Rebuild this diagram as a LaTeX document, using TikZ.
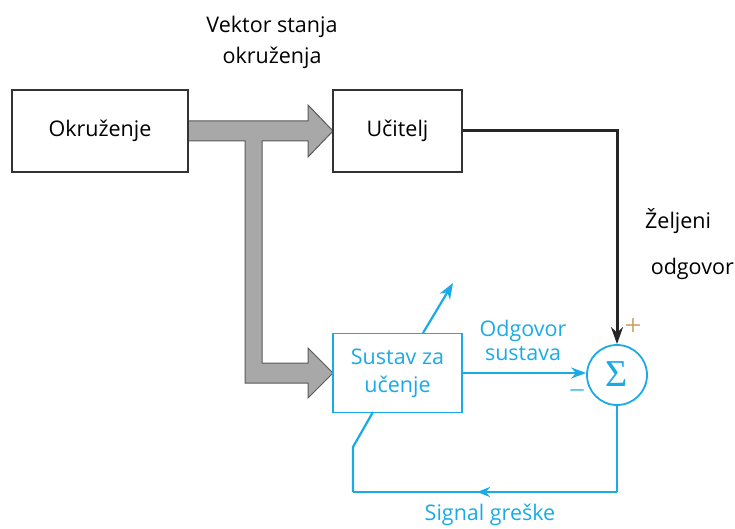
\documentclass[tikz,border=0pt]{standalone}
\usepackage{fontspec}
\setmainfont{Open Sans}
\newfontfamily\sigfont{Liberation Serif}
\usetikzlibrary{arrows.meta,decorations.markings}
\definecolor{cblue}{HTML}{1AABE6}
\definecolor{agrey}{HTML}{A8A8A8}
\definecolor{aedge}{HTML}{5A5A5A}
\definecolor{plusc}{HTML}{C89A5A}
\tikzset{
  box/.style={draw=black!80, line width=1.3pt, fill=white, inner sep=0pt},
  bbox/.style={draw=cblue, line width=1.8pt, fill=white, inner sep=0pt, text=cblue},
  lbl/.style={font=\fontsize{21.5}{26}\selectfont, align=center, inner sep=0pt},
  bl/.style={draw=cblue, line width=2.2pt},
  midarrow/.style={postaction={decorate}, decoration={markings, mark=at position #1 with {\arrow{Stealth[length=13pt,width=10pt]}}}}
}
\begin{document}
\begin{tikzpicture}[x=1pt,y=-1pt]
\useasboundingbox (0,0) rectangle (735,529);
% grey T arrow
\filldraw[fill=agrey, draw=aedge, line width=1pt, line join=miter]
  (188,121) -- (308,121) -- (308,105) -- (333,131) -- (308,157) -- (308,141)
  -- (262,141) -- (262,363) -- (308,363) -- (308,348) -- (333,373) -- (308,398)
  -- (308,383) -- (245,383) -- (245,141) -- (188,141) -- cycle;
\node[box, minimum width=176, minimum height=82] (okr) at (100,131) {};
\node[lbl] at (okr.center) {Okruženje};
\node[box, minimum width=129, minimum height=82] (uci) at (397.5,131) {};
\node[lbl] at (uci.center) {Učitelj};
\node[bbox, minimum width=129, minimum height=79] (sus) at (397.5,373) {};
\node[lbl, text=cblue, font=\fontsize{21.5}{28}\selectfont] at (sus.center) {Sustav za\\učenje};
\node[draw=cblue, line width=1.8pt, circle, minimum size=60, inner sep=0pt] (sig) at (617,375) {};
\node[text=cblue, inner sep=0pt, font=\sigfont\fontsize{38}{38}\selectfont] at ([yshift=1]sig.center) {Σ};
% texts
\node[lbl, font=\fontsize{21.5}{31}\selectfont] (vek) at (272,42) {Vektor stanja\\okruženja};
\node[lbl, anchor=west, align=left, font=\fontsize{21.5}{46}\selectfont] (zel) at (645,244) {Željeni\\\ odgovor};
\node[lbl, text=cblue, font=\fontsize{21.5}{24}\selectfont] (odg) at (523,340) {Odgovor\\sustava};
\node[lbl, text=cblue] (sg) at (490,515) {Signal greške};
\node[lbl, text=cblue] (minus) at (577,393) {\fontsize{26}{26}\selectfont\sigfont –};
\node[lbl, text=plusc] (plus) at (633,327) {\fontsize{30}{30}\selectfont\sigfont +};
% black arrow
\draw[line width=3pt, black!85, -{Stealth[length=17pt,width=12pt]}] (uci.east) -| (sig.north);
% blue arrows
\draw[bl, -{Stealth[length=15pt,width=11pt]}] (sus.east |- 0,373) -- (sig.west |- 0,373);
\coordinate (out) at (453,283);
\draw[bl, -{Stealth[length=16pt,width=12pt]}] (423,333) -- (out);
\coordinate (c1) at (617,492);
\coordinate (c2) at (353,492);
\coordinate (c3) at (353,447);
\coordinate (c4) at (373,412);
\draw[bl] (sig.south) -- (c1);
\draw[bl, midarrow=0.53] (c1) -- (c2);
\draw[bl] (c2) -- (c3) -- (c4);
\end{tikzpicture}
\end{document}
